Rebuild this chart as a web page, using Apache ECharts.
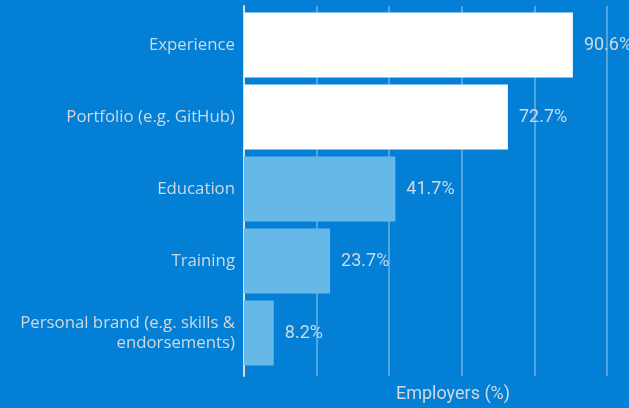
<!DOCTYPE html>
<html>
<head>
<meta charset="utf-8">
<script src="https://cdn.jsdelivr.net/npm/echarts@6/dist/echarts.min.js"></script>
<style>
html,body{margin:0;padding:0;background:#0380d6;}
#chart{width:629px;height:408px;}
</style>
</head>
<body>
<div id="chart"></div>
<script>
const categories = ['Experience', 'Portfolio (e.g. GitHub)', 'Education', 'Training', 'Personal brand (e.g. skills &\nendorsements)'];
const values = [90.6, 72.7, 41.7, 23.7, 8.2];
const highlighted = [true, true, false, false, false];
const axisName = 'Employers (%)';

const chart = echarts.init(document.getElementById('chart'));
const textColor = '#d0d8e1';
chart.setOption({
  backgroundColor: '#0380d6',
  animation: false,
  grid: [
    { left: 244, right: 22, top: 6, height: 372 },
    { left: 244, right: 22, top: 9, height: 360 }
  ],
  xAxis: [
    {
      gridIndex: 0, type: 'value', min: 0, max: 100, interval: 20,
      axisLine: { show: false }, axisTick: { show: false }, axisLabel: { show: false },
      splitLine: { show: true, lineStyle: { color: 'rgba(255,255,255,0.3)', width: 2 } },
      name: axisName, nameLocation: 'middle', nameGap: 9,
      nameTextStyle: { color: textColor, fontFamily: 'Roboto', fontSize: 18, padding: [0, 0, 0, 55] }
    },
    {
      gridIndex: 1, type: 'value', min: 0, max: 100, show: false
    }
  ],
  yAxis: [
    {
      gridIndex: 0, type: 'value', min: 0, max: 1,
      axisLine: { show: true, lineStyle: { color: '#dcdcdc', width: 2 } },
      axisTick: { show: false }, axisLabel: { show: false }, splitLine: { show: false }
    },
    {
      gridIndex: 1, type: 'category', data: categories, inverse: true,
      axisLine: { show: false }, axisTick: { show: false }, splitLine: { show: false },
      axisLabel: { color: textColor, fontFamily: 'Open Sans', fontSize: 16.8, lineHeight: 20, margin: 9, align: 'right', padding: [4, 0, 0, 0] }
    }
  ],
  series: [{
    type: 'bar', xAxisIndex: 1, yAxisIndex: 1,
    data: values,
    barCategoryGap: '10%',
    itemStyle: { color: p => highlighted[p.dataIndex] ? '#ffffff' : '#66b8e8' },
    label: {
      show: true, position: 'right', distance: 11,
      formatter: p => p.value + '%',
      color: textColor, fontFamily: 'Roboto', fontSize: 18, padding: [4, 0, 0, 0]
    }
  }]
});
</script>
</body>
</html>
